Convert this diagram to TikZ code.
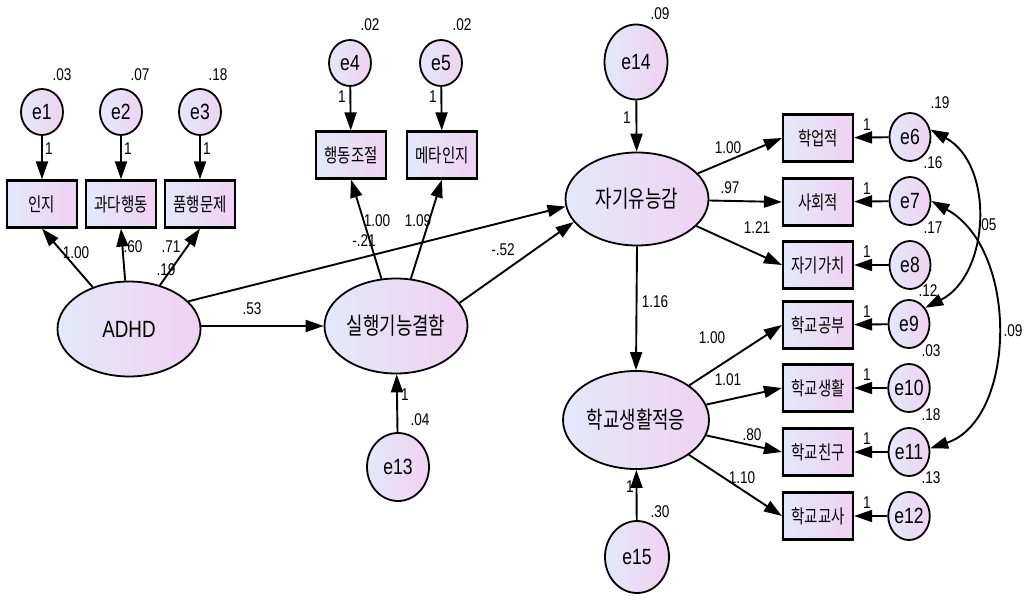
\documentclass[tikz,border=0pt]{standalone}
\usepackage{fontspec}
\setmainfont{Liberation Sans}[FakeStretch=0.8]
\newfontfamily\kr{Noto Sans CJK KR}[FakeStretch=0.76]
\usetikzlibrary{shapes.geometric,arrows.meta}
\definecolor{lcol}{RGB}{227,232,250}
\definecolor{rcol}{RGB}{240,210,242}
\tikzset{
 fillgrad/.style={left color=lcol, right color=rcol},
 latent/.style={ellipse, draw, line width=1.8pt, fillgrad, inner sep=0pt, minimum width=143pt, minimum height=95pt, font=\kr\fontsize{23.5}{23.5}\selectfont},
 err/.style={ellipse, draw, line width=1.8pt, fillgrad, inner sep=0pt, minimum width=42pt, minimum height=46pt, font=\fontsize{22}{22}\selectfont},
 obs/.style={rectangle, draw, line width=2.2pt, fillgrad, inner sep=0pt, minimum width=70pt, minimum height=47pt, font=\kr\fontsize{19}{19}\selectfont},
 num/.style={font=\fontsize{17}{17}\selectfont, inner sep=0pt},
 arr/.style={-{Triangle[length=18pt,width=12pt]}, line width=1.9pt},
 cov/.style={{Triangle[length=18pt,width=12pt]}-{Triangle[length=18pt,width=12pt]}, line width=1.9pt},
}
\begin{document}
\begin{tikzpicture}[x=1pt,y=-1pt]
\useasboundingbox (0,0) rectangle (1030,596);
% latent variables
\node[latent, font=\fontsize{23.5}{23.5}\selectfont] (adhd) at (129,329) {ADHD};
\node[latent] (exe) at (396,326) {실행기능결함};
\node[latent, minimum height=93pt] (self) at (637,199) {자기유능감};
\node[latent, minimum width=146pt, minimum height=98pt] (sch) at (636,420) {학교생활적응};
% left indicators
\node[err] (e1) at (42,112) {e1};
\node[err] (e2) at (121,112) {e2};
\node[err] (e3) at (200,112) {e3};
\node[obs] (b1) at (42,204) {인지};
\node[obs] (b2) at (121,204) {과다행동};
\node[obs] (b3) at (200,204) {품행문제};
\node[err] (e4) at (350,63) {e4};
\node[err] (e5) at (441,63) {e5};
\node[obs] (b4) at (351,155) {행동조절};
\node[obs] (b5) at (442,155) {메타인지};
\node[err, minimum width=62pt, minimum height=68pt] (e13) at (398,467) {e13};
\node[err, minimum width=63pt, minimum height=75pt] (e14) at (636,62) {e14};
\node[err, minimum width=64pt, minimum height=72pt] (e15) at (637,557) {e15};
% right indicators
\node[obs] (b6) at (818,138) {학업적};
\node[obs] (b7) at (818,202) {사회적};
\node[obs] (b8) at (818,265) {자기가치};
\node[obs] (b9) at (818,325) {학교공부};
\node[obs] (b10) at (818,388) {학교생활};
\node[obs] (b11) at (818,452) {학교친구};
\node[obs] (b12) at (818,516) {학교교사};
\node[err, minimum width=41pt, minimum height=48pt] (e6) at (910,137) {e6};
\node[err, minimum width=41pt, minimum height=48pt] (e7) at (910,201) {e7};
\node[err, minimum width=41pt, minimum height=48pt] (e8) at (910,265) {e8};
\node[err, minimum width=41pt, minimum height=48pt] (e9) at (909,324) {e9};
\node[err, minimum width=41pt, minimum height=48pt] (e10) at (909,388) {e10};
\node[err, minimum width=41pt, minimum height=48pt] (e11) at (909,452) {e11};
\node[err, minimum width=41pt, minimum height=48pt] (e12) at (909,516) {e12};
% arrows
\draw[arr] (e1) -- (b1);
\draw[arr] (e2) -- (b2);
\draw[arr] (e3) -- (b3);
\draw[arr] (adhd) -- (b1.south);
\draw[arr] (adhd) -- (b2.south);
\draw[arr] (adhd) -- (b3.south);
\draw[arr] (e4) -- (b4);
\draw[arr] (e5) -- (b5);
\draw[arr] (exe) -- (b4.south);
\draw[arr] (exe) -- (b5.south);
\draw[arr] (adhd.east |- exe.west) -- (exe.west);
\draw[arr] (adhd.25) -- (self.186);
\draw[arr] (exe.20) -- (self.200);
\draw[arr] (e13) -- (exe);
\draw[arr] (e14) -- (self);
\draw[arr] (self.south) -- (sch.north);
\draw[arr] (e15) -- (sch);
\foreach \b in {6,7,8} \draw[arr] (self) -- (b\b.west);
\foreach \b in {9,10,11,12} \draw[arr] (sch) -- (b\b.west);
\foreach \b in {6,...,12} \draw[arr] (e\b) -- (b\b);
\draw[cov] (e6.20) .. controls (995,165) and (990,275) .. (e9.45);
\draw[cov] (e7.east) .. controls (1020,250) and (1016,420) .. (e11.10);
% labels
\foreach \t/\x/\y [count=\i] in {
 .03/62/75, .07/140/75, .18/218/75, 1/49/149, 1/128/149, 1/207/149,
 1.00/76/253, .60/133/247, .71/171/247, .19/166/270, .53/252/309,
 .02/370/25, .02/462/25, 1/342/97, 1/433/97,
 1.00/377/221, 1.09/418/221, -.21/364/241, -.52/503/250,
 1/405/395, .04/420/420, .09/660/14, 1/627/118,
 1.00/728/148, .97/730/188, 1.21/757/228, 1.16/655/302,
 1.00/712/338, 1.01/728/380, .80/752/435, 1.10/742/478,
 1/630/487, .30/660/512,
 1/867/125, 1/867/189, 1/867/252, 1/867/312, 1/867/375, 1/867/439, 1/867/503,
 .19/940/103, .16/933/163, .17/933/228, .12/928/291, .03/931/351, .18/931/415, .13/931/478,
 .05/987/225, .09/1013/331}
 \node[num] (lab\i) at (\x,\y) {\t};
\end{tikzpicture}
\end{document}
